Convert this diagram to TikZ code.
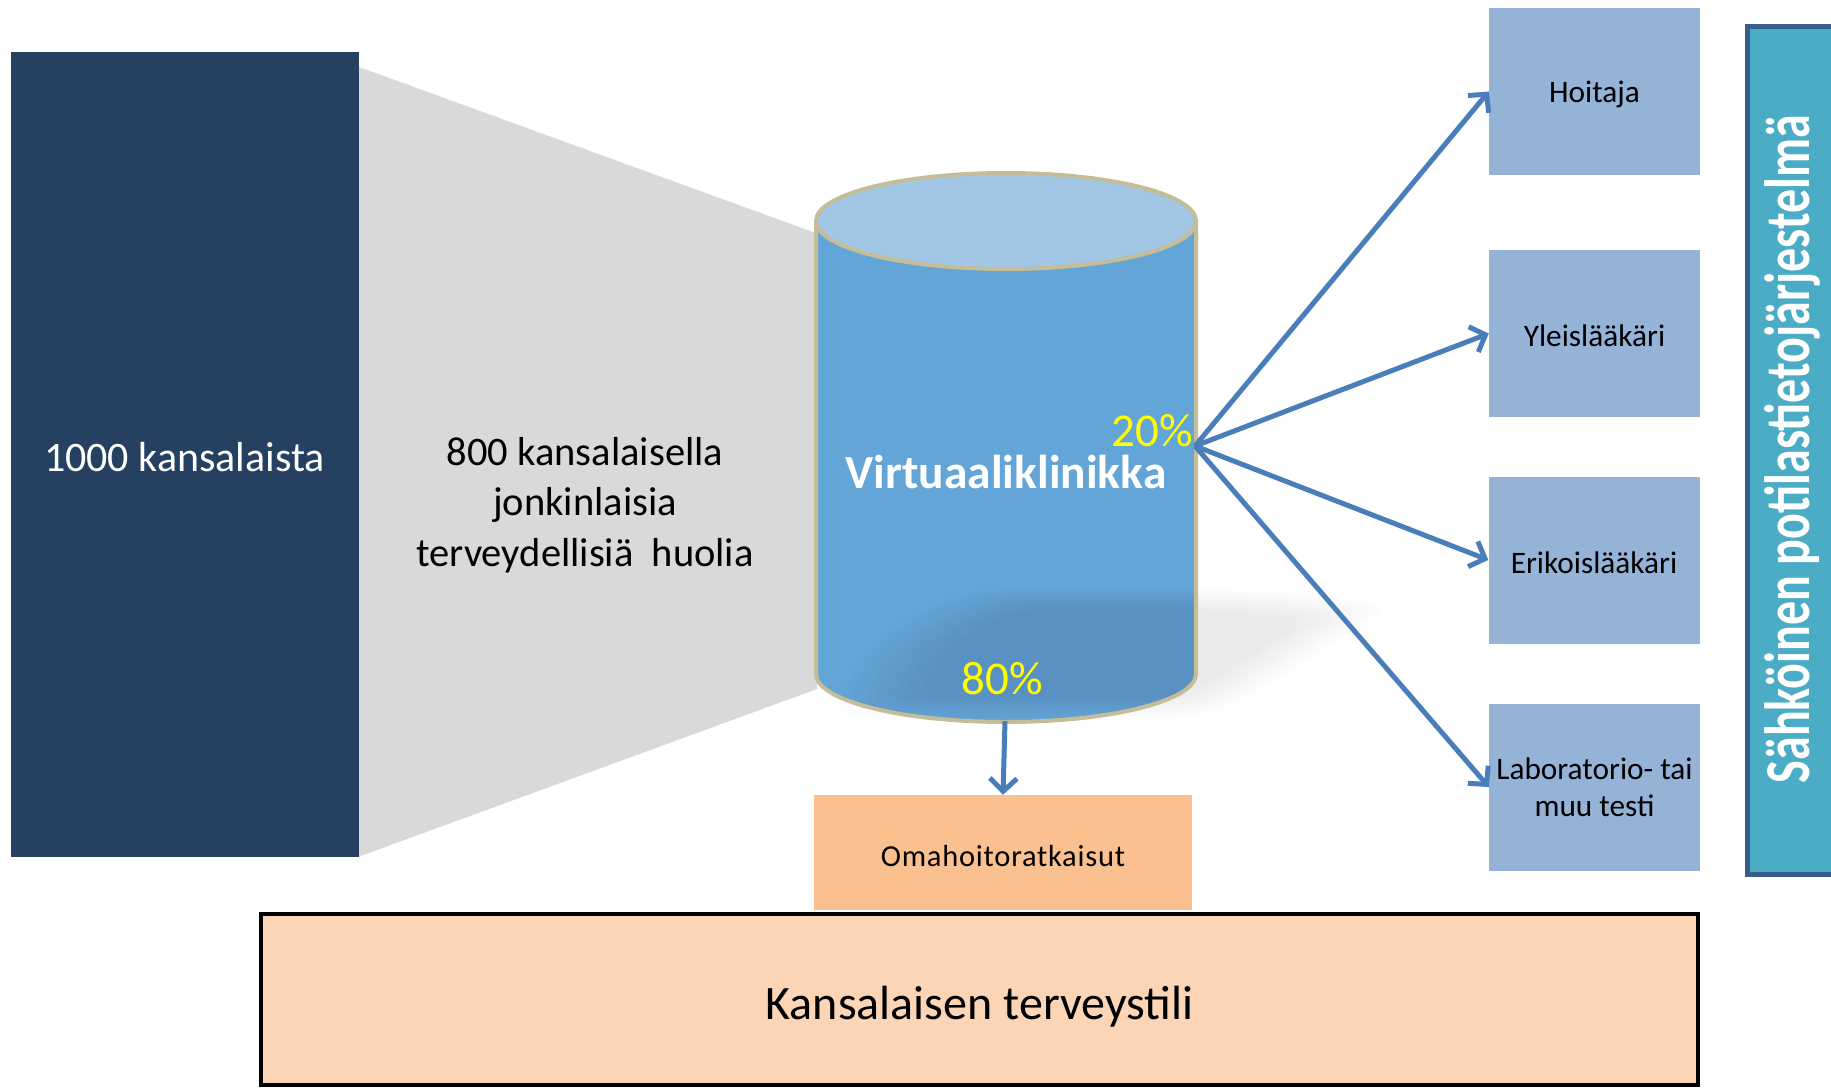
\documentclass[tikz,border=0pt]{standalone}
\usepackage{fontspec}
\usepackage{graphicx}
\setmainfont{Carlito}
\newfontfamily\spacedfont[LetterSpace=2.5]{Carlito}
\usetikzlibrary{arrows.meta}
\definecolor{navy}{HTML}{254061}
\definecolor{fangray}{HTML}{D9D9D9}
\definecolor{cylbody}{HTML}{63A5D6}
\definecolor{cyltop}{HTML}{A2C7E6}
\definecolor{cylrim}{HTML}{C4BD97}
\definecolor{arrowblue}{HTML}{4A7EBB}
\definecolor{roleblue}{HTML}{95B3D7}
\definecolor{sysfill}{HTML}{4BACC6}
\definecolor{sysdraw}{HTML}{385D8A}
\definecolor{selfcarefill}{HTML}{FAC090}
\definecolor{accountfill}{HTML}{FBD5B5}
\definecolor{pctyellow}{HTML}{FFFF00}
\begin{document}
\begin{tikzpicture}[x=1pt,y=-1pt,
  rolebox/.style={fill=roleblue, minimum width=211pt, minimum height=167pt, inner sep=0pt,
    font=\fontsize{31.3}{37}\selectfont, align=center, text depth=0pt},
  flow/.style={draw=arrowblue, line width=5pt, -{Straight Barb[length=13pt,width=27pt]}},
  pct/.style={text=pctyellow, font=\fontsize{47}{50}\selectfont, inner sep=0pt}]
\useasboundingbox (0,0) rectangle (1831,1089);
\clip (0,0) rectangle (1831,1089);

% funnel
\fill[fangray] (358,66.6) -- (817,233.5) -- (817,689) -- (358,857) -- cycle;
\node[fill=navy, minimum width=348pt, minimum height=804.5pt, inner sep=0pt, text=white,
  font=\fontsize{42}{48}\selectfont, text height=32.5pt, text depth=0pt] (pop) at (184.5,454.75) {1000 kansalaista};
\node[align=center, font=\fontsize{40.5}{50.3}\selectfont, inner sep=0pt] (concern) at (585,505)
  {800 kansalaisella\\jonkinlaisia\\terveydellisiä\ \ huolia};

% cylinder
\fill[cylbody] (816,221) -- (816,674) arc[start angle=180, end angle=0, x radius=190, y radius=48] -- (1196,221) -- cycle;
\foreach \s in {1.0,0.965,...,0.66} {
  \fill[black, opacity=0.0085, shift={(1110,655)}, scale=\s] plot[smooth cycle] coordinates
    {(-272,50) (-230,-15) (-138,-62) (-10,-67) (140,-65) (240,-57) (270,-43) (230,-15) (150,35) (80,61) (-110,65) (-230,63)};
}
\fill[cyltop] (1006,221) ellipse [x radius=190, y radius=48];
\draw[cylrim, line width=4pt] (816,221) -- (816,674) arc[start angle=180, end angle=0, x radius=190, y radius=48] -- (1196,221);
\draw[cylrim, line width=4pt] (1006,221) ellipse [x radius=190, y radius=48];
\coordinate (hub) at (1195,446);
\coordinate (cylbase) at (1005,721);
\node[text=white, font=\bfseries\fontsize{47.5}{50}\selectfont, inner sep=0pt, anchor=base] (clinic) at (1006,488) {Virtuaaliklinikka};
\node[pct, anchor=base east] (p20) at (1193,446) {20\%};
\node[pct, anchor=base] (p80) at (1002,694) {80\%};

% role boxes
\node[rolebox, text height=23pt] (nurse) at (1594.5,91.5) {Hoitaja};
\node[rolebox, text height=25pt] (gp) at (1594.5,333.5) {Yleislääkäri};
\node[rolebox, text height=26pt] (spec) at (1594,560) {Erikoislääkäri};
\node[rolebox] (lab) at (1594.5,787) {Laboratorio- tai\\muu testi};

% system box
\node[fill=sysfill, draw=sysdraw, line width=5pt, minimum width=100pt, minimum height=847pt,
  inner sep=0pt, anchor=north west] (ehr) at (1745,24.5) {};
\node[rotate=90, anchor=base, text=white, font=\bfseries\fontsize{64}{70}\selectfont, inner sep=0pt]
  (ehrlabel) at (1809,449) {\scalebox{0.75}[1]{Sähköinen potilastietojärjestelmä}};

% bottom boxes
\node[fill=selfcarefill, minimum width=378pt, minimum height=115pt, inner sep=0pt,
  font=\spacedfont\fontsize{30.5}{34}\selectfont, text height=28.4pt, text depth=0pt] (selfcare) at (1003,852.5) {Omahoitoratkaisut};
\node[fill=accountfill, draw=black, line width=4pt, minimum width=1437pt, minimum height=171pt, inner sep=0pt,
  font=\fontsize{48}{52}\selectfont, text height=39pt, text depth=0pt] (acct) at (979.5,999.5) {Kansalaisen terveystili};

% connectors
\draw[flow] (hub) -- (nurse.west);
\draw[flow] (hub) -- (gp.west);
\draw[flow] (hub) -- (spec.west);
\draw[flow] (hub) -- (lab.west);
\draw[flow] (cylbase) -- (selfcare.north);
\end{tikzpicture}
\end{document}
